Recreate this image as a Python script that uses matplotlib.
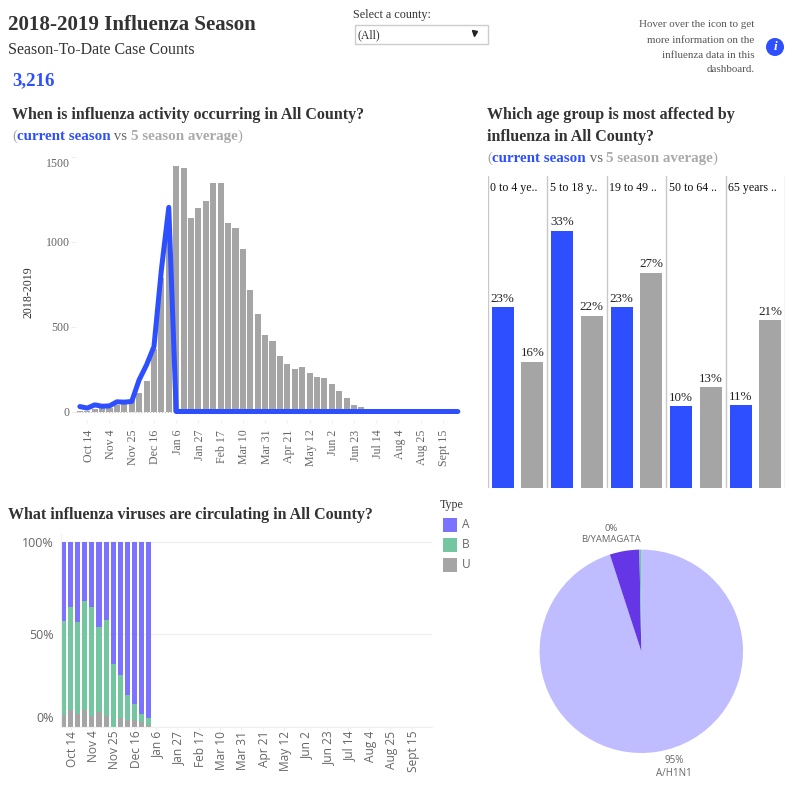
import matplotlib
matplotlib.use('Agg')
import matplotlib.pyplot as plt
from matplotlib.patches import Rectangle, Circle
from matplotlib.transforms import ScaledTranslation
import numpy as np

W, H = 794, 802
SERIF = 'Liberation Serif'
SANS = 'Open Sans'
BLUE = '#2d4fff'
GRAY = '#a5a5a5'
DARK = '#333333'
TICK = '#666666'

# weekly chart, first value is the week before Oct 14
weeks = np.arange(-1, 51)
avg_cases = [4, 5, 16, 18, 20, 39, 49, 65, 110, 180, 368, 786, 1010, 1445, 1433,
             1139, 1198, 1239, 1345, 1345, 1109, 1080, 956, 715, 574, 450, 415,
             327, 280, 250, 262, 227, 204, 198, 163, 122, 80, 39, 27,
             0, 0, 0, 0, 0, 0, 0, 0, 0, 0, 0, 0, 0]
cur_cases = [29, 20, 39, 31, 33, 57, 55, 59, 186, 274, 382, 833, 1201] + [0] * 39
week_ticks = [0, 3, 6, 9, 12, 15, 18, 21, 24, 27, 30, 33, 36, 39, 42, 45, 48]
week_labels = ['Oct 14', 'Nov 4', 'Nov 25', 'Dec 16', 'Jan 6', 'Jan 27', 'Feb 17',
               'Mar 10', 'Mar 31', 'Apr 21', 'May 12', 'Jun 2', 'Jun 23', 'Jul 14',
               'Aug 4', 'Aug 25', 'Sept 15']

# age groups
age_groups = ['0 to 4 ye..', '5 to 18 y..', '19 to 49 ..', '50 to 64 ..', '65 years ..']
age_current = [23.2, 33.0, 23.2, 10.5, 10.6]
age_average = [16.2, 22.1, 27.6, 12.9, 21.5]
age_current_lbl = ['23%', '33%', '23%', '10%', '11%']
age_average_lbl = ['16%', '22%', '27%', '13%', '21%']

# virus type shares
type_weeks = np.arange(-1, 12)
type_u = [6, 8.7, 7, 9, 5.5, 8, 5.5, 0, 4.4, 3.6, 3.3, 2.2, 1]
type_b = [51.3, 56.3, 49.7, 59, 59.5, 46, 52.3, 33.8, 23.4, 13.4, 8.7, 4.8, 3.4]
type_a = [42.7, 35, 43.3, 32, 35, 46, 42.2, 66.2, 72.2, 83, 88, 93, 95.6]
type_colors = {'A': '#7b72ff', 'B': '#74c6a0', 'U': '#a5a5a5'}

# subtype pie
pie_vals = [95, 4.7, 0.3]
pie_cols = ['#bfbcff', '#6436e6', '#74c6a0']

plt.rcParams['font.family'] = [SERIF, 'DejaVu Serif']

fig = plt.figure(figsize=(W / 100, H / 100), dpi=100, facecolor='white')


def ax_px(l, t, r, b):
    a = fig.add_axes([l / W, 1 - b / H, (r - l) / W, (b - t) / H])
    a.patch.set_alpha(0)
    return a


def nudge(lbl, dx, dy):
    # move a tick label by some pixels, dy is up
    lbl.set_transform(lbl.get_transform() + ScaledTranslation(dx / 100, dy / 100, fig.dpi_scale_trans))


bg = fig.add_axes([0, 0, 1, 1])
bg.set_xlim(0, W)
bg.set_ylim(H, 0)
bg.axis('off')


def rich(x, y, parts, size, weight='bold'):
    # draw coloured pieces one after the other on a line
    r = fig.canvas.get_renderer()
    inv = bg.transData.inverted()
    for s, col, wt in parts:
        t = bg.text(x, y, s, color=col, fontsize=size, fontweight=wt, va='baseline')
        bb = t.get_window_extent(r)
        x = inv.transform((bb.x1, bb.y0))[0]


# header
bg.text(8, 30, '2018-2019 Influenza Season', fontsize=15.1, fontweight='bold', color=DARK, va='baseline')
bg.text(8, 54, 'Season-To-Date Case Counts', fontsize=11.5, color=DARK, va='baseline')
bg.text(12, 85, '3,216', fontsize=13.6, fontweight='bold', color=BLUE, va='baseline')
bg.text(12, 119, 'When is influenza activity occurring in All County?', fontsize=11.5,
        fontweight='bold', color=DARK, va='baseline')
rich(12, 140, [('(', GRAY, 'normal'), ('current season', BLUE, 'bold'), (' vs ', TICK, 'normal'),
               ('5 season average', '#aaaaaa', 'bold'), (')', GRAY, 'normal')], 10.8)
bg.text(487, 119, 'Which age group is most affected by', fontsize=11.5, fontweight='bold', color=DARK, va='baseline')
bg.text(487, 141, 'influenza in All County?', fontsize=11.5, fontweight='bold', color=DARK, va='baseline')
rich(487, 162, [('(', GRAY, 'normal'), ('current season', BLUE, 'bold'), (' vs ', TICK, 'normal'),
                ('5 season average', '#aaaaaa', 'bold'), (')', GRAY, 'normal')], 10.8)
bg.text(8, 519, 'What influenza viruses are circulating in All County?', fontsize=11.5,
        fontweight='bold', color=DARK, va='baseline')

# county filter
bg.text(353, 18, 'Select a county:', fontsize=8.7, color=DARK, va='baseline')
bg.add_patch(Rectangle((354.5, 24.5), 133, 19, fc='white', ec='#cccccc', lw=1))
bg.text(357, 38, '(All)', fontsize=8.5, color=DARK, va='baseline')
bg.plot([474], [33], marker='v', ms=3.6, color='#222222')

# info note
for yy, s in zip([27, 43, 58, 72], ['Hover over the icon to get', 'more information on the',
                                    'influenza data in this', 'dashboard.']):
    bg.text(754.5, yy, s, fontsize=7.9, color='#555555', ha='right', va='baseline')
bg.add_patch(Circle((775, 47), 9, fc=BLUE, ec='none'))
bg.text(775, 47.5, 'i', color='white', fontsize=9.5, fontweight='bold', style='italic', ha='center', va='center')

# weekly cases
ax = ax_px(76, 155, 462, 420)
ax.bar(weeks, avg_cases, width=0.82, color=GRAY, zorder=2)
ax.plot(weeks, cur_cases, color=BLUE, lw=3.6, zorder=3, solid_capstyle='round', solid_joinstyle='round')
ax.set_xlim(-1.52, 50.57)
ax.set_ylim(-50, 1509)
ax.axhline(0, color='#bbbbbb', lw=0.8, ls=':', zorder=1)
ax.set_yticks([0, 500, 1000, 1500])
ax.set_xticks(week_ticks, week_labels, rotation=90)
ax.tick_params(axis='x', length=2, color='#eeeeee', labelsize=8.6, labelcolor=TICK, pad=5)
ax.tick_params(axis='y', length=3.6, color='#eeeeee', labelsize=8.6, labelcolor=TICK, pad=1)
for s in ax.spines.values():
    s.set_visible(False)
nudge(ax.get_yticklabels()[3], 0, -5.5)
for lbl in ax.get_xticklabels():
    nudge(lbl, 1.5, 0)
bg.text(28, 292, '2018-2019', rotation=90, fontsize=8.6, color=DARK, ha='center', va='center')

# age groups
ax2 = ax_px(487.7, 176, 785.3, 488)
xs = np.arange(len(age_groups))
ax2.bar(xs - 0.25, age_current, width=0.37, color=BLUE)
ax2.bar(xs + 0.25, age_average, width=0.37, color=GRAY)
ax2.set_xlim(-0.5, 4.5)
ax2.set_ylim(0, 312 / 7.8)
ax2.axis('off')
for v in np.arange(-0.5, 5):
    ax2.axvline(v, color='#c8c8c8', lw=1)
for i, g in enumerate(age_groups):
    ax2.text(i - 0.46, 39.2, g, fontsize=8.6, color='#111111', va='top')
    ax2.text(i - 0.25, age_current[i] + 0.3, age_current_lbl[i], fontsize=9.4, color='#222222', ha='center', va='bottom')
    ax2.text(i + 0.25, age_average[i] + 0.3, age_average_lbl[i], fontsize=9.4, color='#222222', ha='center', va='bottom')

# virus types
ax3 = ax_px(60.5, 534, 432, 726.5)
bottom = np.zeros(len(type_weeks))
for name, vals in [('U', type_u), ('B', type_b), ('A', type_a)]:
    ax3.bar(type_weeks, vals, bottom=bottom, width=0.72, color=type_colors[name], zorder=2)
    bottom = bottom + np.array(vals)
ax3.set_xlim(-1.42, 50.84)
ax3.set_ylim(0, 104.5)
ax3.set_yticks([0, 50, 100], ['0%', '50%', '100%'], family=SANS)
ax3.set_xticks(week_ticks, week_labels, rotation=90, family=SANS)
ax3.tick_params(axis='x', length=2, color='#eeeeee', labelsize=8.6, labelcolor=TICK, pad=1)
ax3.tick_params(axis='y', length=0, labelsize=9, labelcolor=TICK, pad=5)
ax3.grid(axis='y', color='#f0f0f0', lw=1, zorder=0)
for k, s in ax3.spines.items():
    s.set_visible(k in ('left', 'bottom'))
    s.set_color('#f0f0f0')
nudge(ax3.get_yticklabels()[0], 0, 9.5)
for lbl in ax3.get_xticklabels():
    nudge(lbl, 1.5, 0)

# legend
bg.text(440, 508, 'Type', fontsize=8.6, color=DARK, va='baseline')
for yy, name in zip([518, 538, 558], ['A', 'B', 'U']):
    bg.add_patch(Rectangle((443, yy), 14, 14, fc=type_colors[name], ec='none'))
    bg.text(462, yy + 7, name, fontsize=8.6, family=SANS, color=TICK, va='center')

# subtype pie
ax4 = ax_px(641.3 - 102, 651.3 - 102, 641.3 + 102, 651.3 + 102)
ax4.pie(pie_vals, colors=pie_cols, startangle=90, counterclock=False, radius=1.0,
        wedgeprops={'linewidth': 0})
ax4.set_xlim(-1.003, 1.003)
ax4.set_ylim(-1.003, 1.003)
bg.text(611, 534, '0%\nB/YAMAGATA', fontsize=6.8, family=SANS, color=TICK, ha='center', va='center', linespacing=1.3)
bg.text(674, 767, '95%\nA/H1N1', fontsize=7, family=SANS, color=TICK, ha='center', va='center', linespacing=1.3)

fig.savefig('out.png', dpi=100, facecolor='white')
